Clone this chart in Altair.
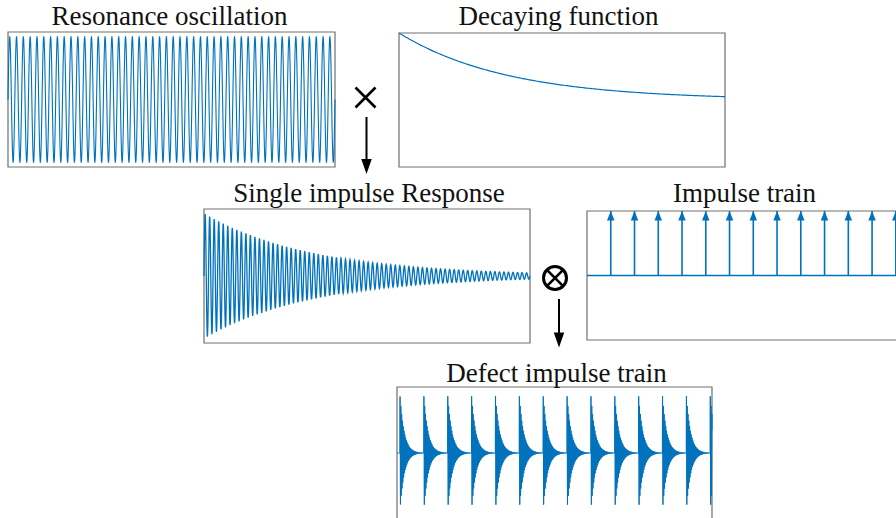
import numpy as np
import pandas as pd
import altair as alt

# ---------------- data / parameters ----------------
TITLES = ["Resonance oscillation", "Decaying function", "Single impulse Response",
          "Impulse train", "Defect impulse train"]
RES_CYCLES = 48          # carrier cycles across the resonance panel
RESP_CYCLES = 72         # carrier cycles across the single impulse response panel
DECAY_RATE = 3.0         # envelope exp(-3 t) over the panel span
IMPULSES_D = [1, 2, 3, 4, 5, 6, 7, 8, 9, 10, 11, 12, 13]
IMPULSES_E = [0, 1, 2, 3, 4, 5, 6, 7, 8, 9, 10, 11, 12, 13]
TRAIN_CYCLES = 30        # carrier cycles per impulse interval (defect train)
TRAIN_DECAY = 5.6        # envelope decay per impulse interval (defect train)

# ---------------- styles / layout ----------------
BLUE = "#0072BD"
FRAME = "#707070"
FONT = "Liberation Serif"
FS = 27

# pixel boxes (layout): x range, y range (bottom, top)
BOX_A = dict(x=[8, 335], y=[167, 32], xd=[0, 1], yd=[-1.07, 1.07])
BOX_B = dict(x=[399, 725], y=[167, 33], xd=[0, 1], yd=[-1, 1])
BOX_C = dict(x=[204, 530], y=[343, 209], xd=[0, 1], yd=[-1.07, 1.07])
BOX_D = dict(x=[587, 902], y=[340, 211], xd=[0, 13.26], yd=[-1, 1])
BOX_E = dict(x=[397, 712], y=[519, 387], xd=[-0.12, 13.08], yd=[-1.07, 1.07])

TITLE_POS = [(169.5, 25), (558.5, 25), (369, 201.5), (744.5, 201.5), (556.5, 381.5)]


def scales(box):
    sx = alt.Scale(domain=box["xd"], range=box["x"], nice=False, zero=False)
    sy = alt.Scale(domain=box["yd"], range=box["y"], nice=False, zero=False)
    return sx, sy


def frame(box):
    sx, sy = scales(box)
    df = pd.DataFrame({"x0": [box["xd"][0]], "x1": [box["xd"][1]],
                       "y0": [box["yd"][0]], "y1": [box["yd"][1]]})
    return alt.Chart(df).mark_rect(fillOpacity=0, stroke=FRAME, strokeWidth=1.2).encode(
        x=alt.X("x0:Q", scale=sx, axis=None), x2="x1:Q",
        y=alt.Y("y0:Q", scale=sy, axis=None), y2="y1:Q")


def line(box, t, v, width=1.2):
    sx, sy = scales(box)
    df = pd.DataFrame({"t": t, "v": v})
    return alt.Chart(df).mark_line(color=BLUE, strokeWidth=width).encode(
        x=alt.X("t:Q", scale=sx, axis=None),
        y=alt.Y("v:Q", scale=sy, axis=None))


# ---------------- signals ----------------
tA = np.linspace(0, 1, RES_CYCLES * 20 + 1)
vA = np.sin(2 * np.pi * RES_CYCLES * tA)

tB = np.linspace(0, 1, 201)
vB = np.exp(-DECAY_RATE * tB)

tC = np.linspace(0, 1, RESP_CYCLES * 20 + 1)
vC = np.exp(-DECAY_RATE * tC) * np.sin(2 * np.pi * RESP_CYCLES * tC)

tE = np.arange(BOX_E["xd"][0], BOX_E["xd"][1] + 1e-9, 1.0 / (TRAIN_CYCLES * 10))
vE = np.zeros_like(tE)
for k in IMPULSES_E:
    d = tE - k
    m = d >= 0
    vE[m] += np.exp(-TRAIN_DECAY * d[m]) * np.sin(2 * np.pi * TRAIN_CYCLES * d[m])

layers = []

# panel A, B, C, E
layers += [frame(BOX_A), line(BOX_A, tA, vA, 1.1)]
layers += [frame(BOX_B), line(BOX_B, tB, vB, 1.2)]
layers += [frame(BOX_C), line(BOX_C, tC, vC, 1.3)]
layers += [frame(BOX_E), line(BOX_E, tE, vE, 1.0)]

# panel D: impulse train
sxD, syD = scales(BOX_D)
layers.append(frame(BOX_D))
dD = pd.DataFrame({"t": IMPULSES_D, "base": [0] * len(IMPULSES_D), "top": [1] * len(IMPULSES_D)})
layers.append(alt.Chart(pd.DataFrame({"a": [BOX_D["xd"][0]], "b": [BOX_D["xd"][1]], "z": [0]}))
              .mark_rule(color=BLUE, strokeWidth=1.5)
              .encode(x=alt.X("a:Q", scale=sxD, axis=None), x2="b:Q",
                      y=alt.Y("z:Q", scale=syD, axis=None)))
layers.append(alt.Chart(dD).mark_rule(color=BLUE, strokeWidth=1.6).encode(
    x=alt.X("t:Q", scale=sxD, axis=None),
    y=alt.Y("base:Q", scale=syD, axis=None), y2="top:Q"))
layers.append(alt.Chart(dD).mark_point(shape="M0,-1L0.8,1L-0.8,1Z", filled=True, color=BLUE,
                                       size=88, opacity=1, yOffset=4.7).encode(
    x=alt.X("t:Q", scale=sxD, axis=None),
    y=alt.Y("top:Q", scale=syD, axis=None)))

# titles
for title, (cx, by) in zip(TITLES, TITLE_POS):
    layers.append(alt.Chart(pd.DataFrame({"title": [title]})).mark_text(
        font=FONT, fontSize=FS, align="center", baseline="alphabetic", color="#111111"
    ).encode(text="title:N", x=alt.value(cx), y=alt.value(by)))

one = pd.DataFrame({"a": [0]})
CROSS = "M-1,-1L1,1M1,-1L-1,1"
ARROW = "M-0.7,-1L0.7,-1L0,1Z"

# "×" and arrow between top row and middle row
layers.append(alt.Chart(one).mark_point(shape=CROSS, filled=False, color="black", strokeWidth=2.6,
                                        size=400, opacity=1).encode(x=alt.value(365.5), y=alt.value(97.5)))
layers.append(alt.Chart(one).mark_rule(color="black", strokeWidth=2).encode(
    x=alt.value(366.5), y=alt.value(117), y2=alt.value(161)))
layers.append(alt.Chart(one).mark_point(shape=ARROW, filled=True, color="black", size=225,
                                        opacity=1).encode(x=alt.value(366.5), y=alt.value(166.5)))

# "⊗" and arrow between middle row and bottom row
layers.append(alt.Chart(one).mark_point(shape="circle", filled=False, color="black", strokeWidth=3,
                                        size=529, opacity=1).encode(x=alt.value(555), y=alt.value(278)))
layers.append(alt.Chart(one).mark_point(shape=CROSS, filled=False, color="black", strokeWidth=2.6,
                                        size=263, opacity=1).encode(x=alt.value(555), y=alt.value(278)))
layers.append(alt.Chart(one).mark_rule(color="black", strokeWidth=2).encode(
    x=alt.value(559), y=alt.value(299), y2=alt.value(335)))
layers.append(alt.Chart(one).mark_point(shape=ARROW, filled=True, color="black", size=225,
                                        opacity=1).encode(x=alt.value(559), y=alt.value(340)))

chart = alt.layer(*layers).resolve_scale(x="independent", y="independent").properties(
    width=896, height=518, autosize=alt.AutoSizeParams(type="none"), padding=0,
    background="white"
).configure_view(strokeWidth=0)

chart.save("out.html", embed_options={"renderer": "svg", "actions": False})
